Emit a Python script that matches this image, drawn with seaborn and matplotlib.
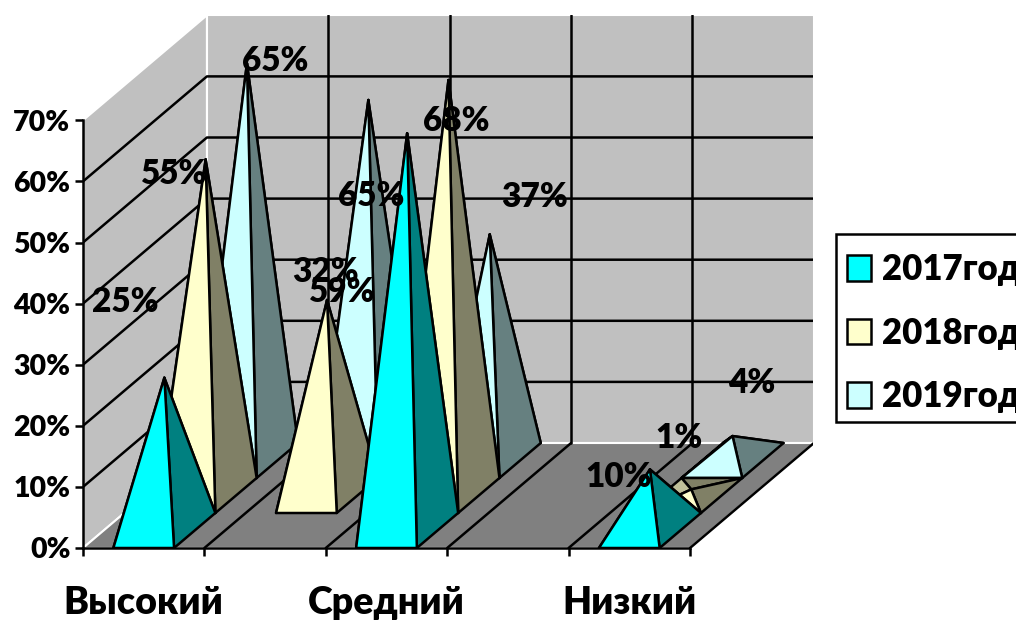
import matplotlib
matplotlib.use("Agg")
import matplotlib.pyplot as plt
import seaborn as sns
import numpy as np
from matplotlib.patches import Patch, Polygon, Rectangle

# Categories on the sheet: two of the five rows have no name
categories = ["Высокий", "", "Средний", "", "Низкий"]
series_names = ["2017год", "2018год", "2019год"]

values_2017 = [25, np.nan, 65, np.nan, 10]
values_2018 = [55, 32, 68, np.nan, 1]
values_2019 = [65, 59, 37, np.nan, 4]

y_ticks = [0, 10, 20, 30, 40, 50, 60, 70]

front_colors = ["#00FFFF", "#FFFFCC", "#CCFFFF"]
right_colors = ["#008080", "#808066", "#668080"]
left_colors = ["#00BFBF", "#BFBF99", "#99BFBF"]

# Label offsets from the apex, in pixels, same order as the values (row by row)
offsets_2017 = [(-39, 76), None, (-36, -63), None, (-31, -8)]
offsets_2018 = [(-31, -15), (-2, 28), (8, -41), None, (-12, 51)]
offsets_2019 = [(28, 2), (-26, -192), (45, 37), None, (19, 53)]

# Oblique projection of the Excel 3D chart, one depth row in data units
X_UNIT = 121.4
Y_UNIT = 6.11
DEPTH_X = 41.3 / X_UNIT
DEPTH_Y = 35.0 / Y_UNIT
N_ROWS = 3
HALF = 0.25
LW = 1.8

FONT = ["Lato", "Open Sans", "DejaVu Sans"]
WEIGHT = "heavy"


def project(x, z, depth):
    return (x + depth * DEPTH_X, z + depth * DEPTH_Y)


sns.set_style("white")
plt.rcParams["font.family"] = FONT
plt.rcParams["font.weight"] = WEIGHT
plt.rcParams["text.color"] = "black"

fig = plt.figure(figsize=(10.16, 6.21), dpi=100)
ax = fig.add_axes([83 / 1016, (621 - 548) / 621, 730 / 1016, 533 / 621])
ax.set_xlim(0, 730 / X_UNIT)
ax.set_ylim(0, 533 / Y_UNIT)
ax.patch.set_visible(False)

n_cat = len(categories)
top = y_ticks[-1]

# walls and floor
back_wall = [project(0, 0, N_ROWS), project(n_cat, 0, N_ROWS), project(n_cat, top, N_ROWS), project(0, top, N_ROWS)]
left_wall = [project(0, 0, 0), project(0, 0, N_ROWS), project(0, top, N_ROWS), project(0, top, 0)]
floor = [project(0, 0, 0), project(n_cat, 0, 0), project(n_cat, 0, N_ROWS), project(0, 0, N_ROWS)]
for pts in [back_wall, left_wall]:
    ax.add_patch(Polygon(pts, facecolor="#C0C0C0", edgecolor="white", lw=1.5, zorder=1))
ax.add_patch(Polygon(floor, facecolor="#808080", edgecolor="white", lw=1.5, zorder=1.5))

# grid on the walls and floor
for t in y_ticks[1:-1]:
    a, b, c = project(0, t, 0), project(0, t, N_ROWS), project(n_cat, t, N_ROWS)
    ax.plot([a[0], b[0], c[0]], [a[1], b[1], c[1]], color="black", lw=LW, zorder=2)
for k in range(1, n_cat + 1):
    a, b = project(k, 0, 0), project(k, 0, N_ROWS)
    ax.plot([a[0], b[0]], [a[1], b[1]], color="black", lw=LW, zorder=2)
    if k < n_cat:
        c = project(k, top, N_ROWS)
        ax.plot([b[0], c[0]], [b[1], c[1]], color="black", lw=LW, zorder=2)

all_values = [values_2017, values_2018, values_2019]
all_offsets = [offsets_2017, offsets_2018, offsets_2019]

# pyramids, back row first so the nearer ones cover it
for row in range(N_ROWS - 1, -1, -1):
    for cat in range(n_cat):
        val = all_values[row][cat]
        if np.isnan(val):
            continue
        cx = cat + 0.5
        fl = project(cx - HALF, 0, row)
        fr = project(cx + HALF, 0, row)
        br = project(cx + HALF, 0, row + 1)
        bl = project(cx - HALF, 0, row + 1)
        apex = project(cx, val, row + 0.5)
        faces = [
            ([bl, br, apex], right_colors[row]),
            ([bl, fl, apex], left_colors[row]),
            ([fr, br, apex], right_colors[row]),
            ([fl, fr, apex], front_colors[row]),
        ]
        for pts, col in faces:
            ax.add_patch(Polygon(pts, facecolor=col, edgecolor="black", lw=LW,
                                 joinstyle="round", zorder=4 + (N_ROWS - row)))
        ax.annotate(f"{val}%", xy=apex, xytext=all_offsets[row][cat], textcoords="offset pixels",
                    ha="center", va="center", fontsize=24, fontweight=WEIGHT, color="black",
                    zorder=10, annotation_clip=False)

# axes
sns.despine(ax=ax, top=True, right=True)
ax.spines["left"].set_bounds(0, top)
ax.spines["bottom"].set_bounds(0, n_cat)
for side in ["left", "bottom"]:
    ax.spines[side].set_linewidth(LW)
    ax.spines[side].set_color("black")
    ax.spines[side].set_zorder(3.5)

ax.set_yticks(y_ticks)
ax.set_yticklabels([f"{t}%" for t in y_ticks], fontsize=20.5, fontweight=WEIGHT)
ax.set_xticks(range(n_cat + 1))
ax.set_xticklabels([])
ax.set_xticks([i + 0.5 for i, c in enumerate(categories) if c], minor=True)
ax.set_xticklabels([c for c in categories if c], minor=True, fontsize=27, fontweight=WEIGHT)
ax.tick_params(axis="y", which="major", left=True, length=6, width=LW, color="black", labelcolor="black", pad=3)
ax.tick_params(axis="x", which="major", bottom=True, length=6, width=LW, color="black")
ax.tick_params(axis="x", which="minor", bottom=False, length=0, labelcolor="black", pad=27)

# legend frame runs off the right edge, as in the source picture
ax.add_patch(Rectangle((836 / 1016, 1 - 422 / 621), 300 / 1016, 188 / 621, transform=fig.transFigure,
                       facecolor="white", edgecolor="black", lw=LW, clip_on=False, zorder=19))
handles = [Patch(facecolor=c, edgecolor="black", lw=LW) for c in front_colors]
leg = ax.legend(handles, series_names, loc="upper left", bbox_to_anchor=(847 / 1016, 1 - 253 / 621),
                bbox_transform=fig.transFigure, borderaxespad=0, frameon=False, handlelength=0.7,
                handleheight=0.75, handletextpad=0.3, labelspacing=0.88, borderpad=0,
                labelcolor="black", prop={"family": FONT, "weight": WEIGHT, "size": 25})
leg.set_zorder(20)

fig.savefig("out.png", dpi=100)
